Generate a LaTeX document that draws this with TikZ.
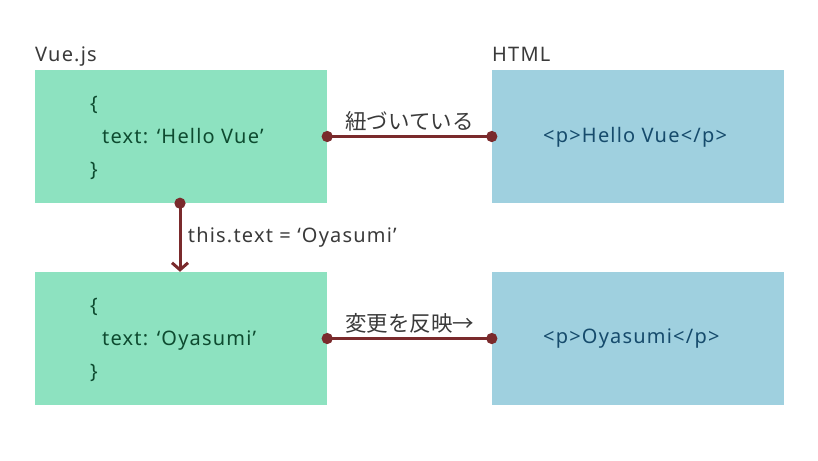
\documentclass[tikz,border=0pt]{standalone}
\usepackage{fontspec}
\setmainfont{Noto Sans}[LetterSpace=6]
\newfontfamily\jpfont{Noto Sans CJK JP}
\usetikzlibrary{
  arrows.meta,
  positioning
}
\definecolor{vuegreen}{HTML}{8DE2C0}
\definecolor{htmlblue}{HTML}{9FD0DF}
\definecolor{codegreen}{HTML}{0E4B30}
\definecolor{codeblue}{HTML}{164B6C}
\definecolor{linkred}{HTML}{7A2A2C}
\definecolor{labelgray}{HTML}{3A3A3A}

\begin{document}
\begin{tikzpicture}[x=1pt, y=-1pt,
    every node/.style = {font=\fontsize{20}{33}\selectfont},
    vuebox/.style = {fill=vuegreen, minimum width=292pt,
      minimum height=133pt, inner sep=0pt},
    htmlbox/.style = {fill=htmlblue, minimum width=292pt,
      minimum height=133pt, inner sep=0pt},
    code/.style = {text=codegreen, align=left, anchor=west, inner sep=0pt},
    tag/.style = {text=codeblue, anchor=west, inner sep=0pt},
    title/.style = {text=labelgray, anchor=base west, inner sep=0pt},
    linklabel/.style = {text=labelgray, font=\jpfont\fontsize{21.5}{24}\selectfont},
    link/.style = {linkred, line width=3.5pt,
      {Circle[length=11pt]}-{Circle[length=11pt]},
      shorten <=-5.5pt, shorten >=-5.5pt},
    flow/.style = {linkred, line width=3pt,
      {Circle[length=11pt]}-{Straight Barb[length=7pt, width=16pt]},
      shorten <=-5.5pt}]
  \useasboundingbox (0,0) rectangle (818,460);

  % boxes
  \node[vuebox] (vue1) at (181,136.5) {};
  \node[htmlbox] (html1) at (638,136.5) {};
  \node[vuebox] (vue2) at (181,338.5) {};
  \node[htmlbox] (html2) at (638,338.5) {};

  % titles
  \node[title] (vuetitle) at (35,61) {Vue.js};
  \node[title] (htmltitle) at (492,61) {HTML};

  % contents
  \node[code] (vue1code) at (90,138) {\{\\\hspace{12pt}text: ‘Hello Vue’\\\}};
  \node[code] (vue2code) at (90,340) {\{\\\hspace{12pt}text: ‘Oyasumi’\\\}};
  \node[tag] (html1tag) at (543,137) {<p>Hello Vue</p>};
  \node[tag] (html2tag) at (543,339) {<p>Oyasumi</p>};

  % connectors
  \draw[link] (vue1.east) -- node[linklabel, midway, above=0pt] {紐づいている} (html1.west);
  \draw[link] (vue2.east) -- node[linklabel, midway, above=0pt] {変更を反映→} (html2.west);
  \draw[flow] (vue1.south -| 180,0) -- node[midway, right=3pt, text=labelgray] {this.text = ‘Oyasumi’} (vue2.north -| 180,0);
\end{tikzpicture}
\end{document}
